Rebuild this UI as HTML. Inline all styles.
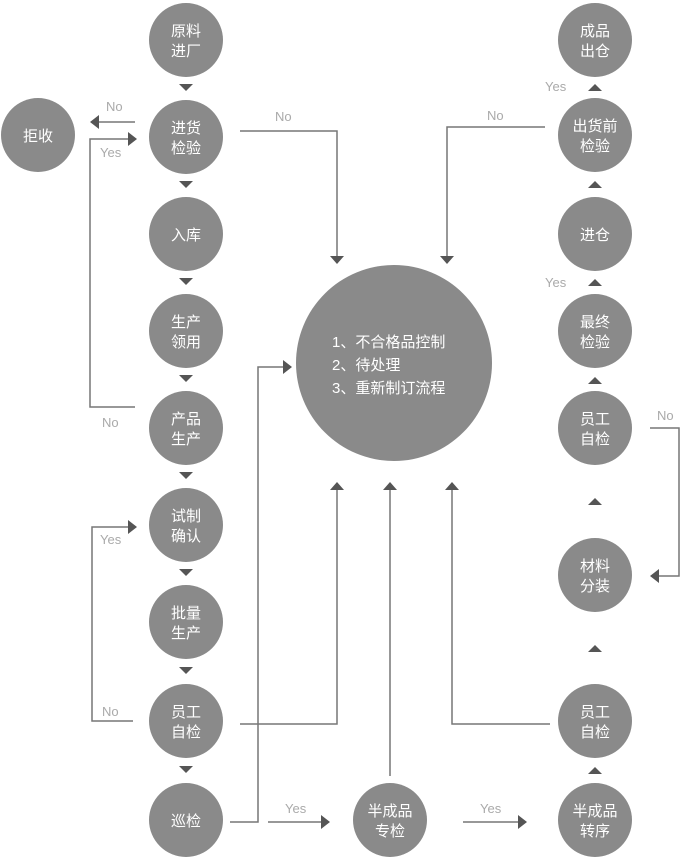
<!DOCTYPE html>
<html><head><meta charset="utf-8"><style>
html,body{margin:0;padding:0;background:#fff;}
svg{display:block;}
.c{fill:#8a8a8a;}
.t{fill:#fff;font-family:"Liberation Sans","Noto Sans CJK SC",sans-serif;font-size:15px;text-anchor:middle;}
.l{fill:#aaa;font-family:"Liberation Sans",sans-serif;font-size:13px;}
.ln{stroke:#777;stroke-width:1.5;fill:none;}
.a{fill:#555;}
</style></head><body>
<svg width="680" height="858" viewBox="0 0 680 858" xmlns="http://www.w3.org/2000/svg">
<!-- left column -->
<g>
<circle class="c" cx="186" cy="40" r="37"/><text class="t" x="186" y="36">原料</text><text class="t" x="186" y="56">进厂</text>
<circle class="c" cx="186" cy="137" r="37"/><text class="t" x="186" y="133">进货</text><text class="t" x="186" y="153">检验</text>
<circle class="c" cx="186" cy="234" r="37"/><text class="t" x="186" y="240">入库</text>
<circle class="c" cx="186" cy="331" r="37"/><text class="t" x="186" y="327">生产</text><text class="t" x="186" y="347">领用</text>
<circle class="c" cx="186" cy="428" r="37"/><text class="t" x="186" y="424">产品</text><text class="t" x="186" y="444">生产</text>
<circle class="c" cx="186" cy="525" r="37"/><text class="t" x="186" y="521">试制</text><text class="t" x="186" y="541">确认</text>
<circle class="c" cx="186" cy="622" r="37"/><text class="t" x="186" y="618">批量</text><text class="t" x="186" y="638">生产</text>
<circle class="c" cx="186" cy="721" r="37"/><text class="t" x="186" y="717">员工</text><text class="t" x="186" y="737">自检</text>
<circle class="c" cx="186" cy="820" r="37"/><text class="t" x="186" y="826">巡检</text>
<circle class="c" cx="38" cy="135" r="37"/><text class="t" x="38" y="141">拒收</text>
</g>
<!-- left down arrows -->
<g class="a">
<polygon points="179,84 193,84 186,91"/>
<polygon points="179,181 193,181 186,188"/>
<polygon points="179,278 193,278 186,285"/>
<polygon points="179,375 193,375 186,382"/>
<polygon points="179,472 193,472 186,479"/>
<polygon points="179,569 193,569 186,576"/>
<polygon points="179,667 193,667 186,674"/>
<polygon points="179,766 193,766 186,773"/>
</g>
<!-- right column -->
<g>
<circle class="c" cx="595" cy="40" r="37"/><text class="t" x="595" y="36">成品</text><text class="t" x="595" y="56">出仓</text>
<circle class="c" cx="595" cy="135" r="37"/><text class="t" x="595" y="131">出货前</text><text class="t" x="595" y="151">检验</text>
<circle class="c" cx="595" cy="234" r="37"/><text class="t" x="595" y="240">进仓</text>
<circle class="c" cx="595" cy="331" r="37"/><text class="t" x="595" y="327">最终</text><text class="t" x="595" y="347">检验</text>
<circle class="c" cx="595" cy="428" r="37"/><text class="t" x="595" y="424">员工</text><text class="t" x="595" y="444">自检</text>
<circle class="c" cx="595" cy="575" r="37"/><text class="t" x="595" y="571">材料</text><text class="t" x="595" y="591">分装</text>
<circle class="c" cx="595" cy="721" r="37"/><text class="t" x="595" y="717">员工</text><text class="t" x="595" y="737">自检</text>
<circle class="c" cx="595" cy="820" r="37"/><text class="t" x="595" y="816">半成品</text><text class="t" x="595" y="836">转序</text>
<circle class="c" cx="390" cy="820" r="37"/><text class="t" x="390" y="816">半成品</text><text class="t" x="390" y="836">专检</text>
</g>
<g class="a">
<polygon points="588,91 602,91 595,84"/>
<polygon points="588,188 602,188 595,181"/>
<polygon points="588,286 602,286 595,279"/>
<polygon points="588,384 602,384 595,377"/>
<polygon points="588,505 602,505 595,498"/>
<polygon points="588,652 602,652 595,645"/>
<polygon points="588,774 602,774 595,767"/>
</g>
<!-- big circle -->
<circle class="c" cx="394" cy="363" r="98"/>
<text class="t" x="332" y="347" style="text-anchor:start">1、不合格品控制</text>
<text class="t" x="332" y="370" style="text-anchor:start">2、待处理</text>
<text class="t" x="332" y="393" style="text-anchor:start">3、重新制订流程</text>
<!-- connectors -->
<g class="ln">
<polyline points="135,122 97,122"/>
<polyline points="240,131 337,131 337,256"/>
<polyline points="135,407 90,407 90,139 130,139"/>
<polyline points="133,721 92,721 92,527 130,527"/>
<polyline points="240,724 337,724 337,490"/>
<polyline points="230,822 258,822 258,367 285,367"/>
<polyline points="268,822 322,822"/>
<polyline points="390,776 390,490"/>
<polyline points="463,822 520,822"/>
<polyline points="550,724 452,724 452,490"/>
<polyline points="545,127 447,127 447,256"/>
<polyline points="650,428 679,428 679,576 657,576"/>
</g>
<g class="a">
<polygon points="90,122 99,115 99,129"/>
<polygon points="137,139 128,132 128,146"/>
<polygon points="330,256 344,256 337,264"/>
<polygon points="440,256 454,256 447,264"/>
<polygon points="137,527 128,520 128,534"/>
<polygon points="330,490 344,490 337,482"/>
<polygon points="383,490 397,490 390,482"/>
<polygon points="445,490 459,490 452,482"/>
<polygon points="292,367 283,360 283,374"/>
<polygon points="330,822 321,815 321,829"/>
<polygon points="527,822 518,815 518,829"/>
<polygon points="650,576 659,569 659,583"/>
</g>
<!-- labels -->
<text class="l" x="106" y="111">No</text>
<text class="l" x="100" y="157">Yes</text>
<text class="l" x="275" y="121">No</text>
<text class="l" x="102" y="427">No</text>
<text class="l" x="100" y="544">Yes</text>
<text class="l" x="102" y="716">No</text>
<text class="l" x="285" y="813">Yes</text>
<text class="l" x="480" y="813">Yes</text>
<text class="l" x="487" y="120">No</text>
<text class="l" x="545" y="91">Yes</text>
<text class="l" x="545" y="287">Yes</text>
<text class="l" x="657" y="420">No</text>
</svg>
</body></html>
